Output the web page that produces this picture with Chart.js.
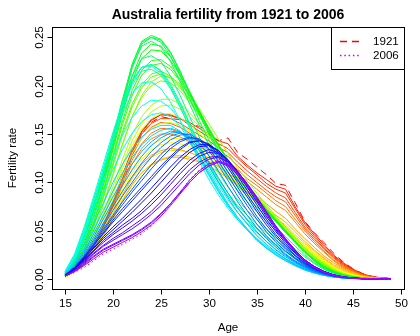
<!DOCTYPE html>
<html>
<head>
<meta charset="utf-8">
<script src="https://cdn.jsdelivr.net/npm/chart.js@4.4.1/dist/chart.umd.min.js"></script>
<style>
  html, body { margin: 0; padding: 0; background: #fff; }
  canvas { display: block; }
</style>
</head>
<body>
<canvas id="chart" width="420" height="336"></canvas>
<script>
// ages on the x axis
const ages = [15,16,17,18,19,20,21,22,23,24,25,26,27,28,29,30,31,32,33,34,35,36,37,38,39,40,41,42,43,44,45,46,47,48,49];

// years drawn (one curve each)
const years = [1921,1923,1924,1926,1927,1929,1930,1932,1933,1935,1936,1938,1939,1941,1942,1944,1945,1947,1948,1950,
  1951,1953,1954,1956,1957,1959,1960,1962,1963,1965,1966,1968,1969,1971,1972,1974,1975,1977,1978,1980,
  1981,1983,1984,1986,1987,1989,1990,1992,1993,1995,1996,1998,1999,2001,2002,2004,2006];

// fertility rate by age, one row per year above
const rates = [
  /*1921*/ [.003,.008,.018,.032,.050,.070,.098,.128,.150,.162, .168,.166,.165,.160,.158,.152,.143,.146,.131,.124, .116,.108,.099,.097,.079,.060,.048,.038,.027,.018, .011,.006,.003,.0015,.0008],
  /*1923*/ [.003,.009,.019,.034,.053,.076,.104,.131,.152,.164, .170,.169,.166,.162,.156,.150,.143,.140,.127,.118, .110,.103,.096,.093,.075,.059,.047,.036,.025,.017, .0105,.0055,.0028,.0014,.0007],
  /*1924*/ [.003,.009,.020,.036,.056,.080,.108,.134,.153,.165, .170,.170,.166,.160,.153,.147,.140,.135,.125,.116, .108,.099,.093,.089,.073,.057,.045,.034,.024,.016, .010,.005,.0025,.0012,.0006],
  /*1926*/ [.003,.009,.020,.036,.056,.079,.106,.131,.150,.161, .166,.166,.161,.155,.149,.143,.136,.131,.121,.112, .104,.096,.089,.084,.069,.054,.043,.032,.023,.015, .0095,.005,.0024,.0011,.0006],
  /*1927*/ [.003,.009,.020,.036,.055,.078,.104,.128,.146,.157, .162,.161,.157,.151,.145,.139,.132,.127,.117,.108, .100,.092,.085,.080,.066,.052,.041,.031,.022,.014, .009,.005,.0022,.001,.0005],
  /*1929*/ [.003,.009,.020,.035,.053,.076,.100,.123,.140,.151, .156,.155,.152,.146,.141,.135,.128,.122,.113,.104, .097,.089,.081,.075,.062,.050,.039,.029,.020,.013, .0085,.0045,.0021,.001,.0005],
  /*1930*/ [.003,.009,.019,.034,.052,.074,.097,.119,.135,.145, .150,.150,.147,.142,.137,.131,.124,.118,.109,.101, .093,.085,.077,.071,.059,.047,.037,.028,.019,.012, .008,.004,.002,.001,.0005],
  /*1932*/ [.002,.008,.017,.031,.048,.067,.087,.105,.119,.128, .133,.135,.134,.131,.127,.122,.116,.110,.102,.094, .086,.078,.070,.063,.052,.042,.033,.024,.017,.011, .007,.0035,.0017,.0009,.0004],
  /*1933*/ [.002,.007,.016,.029,.045,.063,.082,.098,.110,.118, .123,.126,.126,.124,.121,.117,.111,.105,.097,.089, .081,.073,.066,.059,.049,.039,.030,.022,.015,.010, .006,.003,.0015,.0008,.0004],
  /*1935*/ [.002,.007,.015,.028,.044,.062,.081,.097,.110,.119, .124,.127,.128,.126,.122,.117,.111,.104,.096,.088, .079,.071,.063,.056,.046,.037,.029,.021,.014,.009, .0055,.0028,.0014,.0007,.0003],
  /*1936*/ [.002,.007,.016,.030,.047,.066,.086,.104,.117,.126, .131,.133,.133,.131,.127,.121,.114,.106,.097,.088, .080,.071,.062,.054,.044,.035,.027,.020,.013,.008, .005,.0025,.0012,.0006,.0003],
  /*1938*/ [.002,.007,.016,.031,.049,.069,.090,.110,.124,.134, .139,.141,.140,.137,.132,.125,.117,.108,.099,.089, .080,.071,.062,.054,.044,.035,.027,.019,.012,.0075, .0045,.0022,.0011,.0005,.0003],
  /*1939*/ [.002,.007,.017,.032,.051,.072,.094,.114,.129,.139, .144,.146,.145,.141,.135,.128,.119,.110,.100,.090, .081,.071,.062,.053,.043,.034,.026,.019,.012,.007, .004,.002,.001,.0005,.0003],
  /*1941*/ [.003,.008,.019,.036,.058,.082,.107,.130,.146,.156, .161,.162,.159,.153,.145,.136,.126,.116,.105,.094, .084,.074,.064,.054,.044,.034,.026,.018,.0115,.0065, .0037,.0019,.001,.0005,.0003],
  /*1942*/ [.003,.009,.021,.040,.063,.088,.114,.138,.155,.166, .171,.171,.167,.160,.151,.141,.130,.119,.107,.096, .085,.074,.064,.054,.043,.033,.025,.018,.011,.006, .0035,.0018,.0009,.0005,.0003],
  /*1944*/ [.003,.009,.022,.041,.065,.091,.118,.143,.161,.173, .179,.180,.176,.168,.158,.147,.135,.123,.110,.098, .086,.075,.064,.053,.042,.032,.024,.017,.0105,.0058, .0032,.0016,.0008,.0004,.0002],
  /*1945*/ [.003,.010,.023,.043,.068,.096,.124,.150,.168,.180, .186,.186,.181,.172,.161,.149,.136,.123,.110,.098, .086,.074,.063,.052,.041,.031,.023,.016,.010,.0055, .003,.0015,.0008,.0004,.0002],
  /*1947*/ [.004,.011,.026,.048,.076,.107,.139,.168,.190,.204, .210,.209,.202,.190,.176,.161,.145,.130,.115,.102, .089,.077,.065,.054,.043,.032,.023,.016,.0095,.0052, .0029,.0015,.0007,.0004,.0002],
  /*1948*/ [.004,.012,.027,.050,.078,.109,.140,.168,.188,.200, .205,.203,.195,.183,.169,.154,.139,.124,.110,.097, .085,.073,.062,.051,.040,.030,.022,.015,.009,.005, .0028,.0014,.0007,.0004,.0002],
  /*1950*/ [.004,.013,.029,.054,.084,.117,.150,.178,.198,.209, .212,.208,.198,.185,.170,.154,.138,.123,.109,.096, .084,.072,.061,.050,.039,.029,.021,.014,.0087,.0048, .0026,.0013,.0006,.0003,.0002],
  /*1951*/ [.004,.013,.030,.055,.086,.120,.153,.181,.201,.212, .215,.210,.200,.186,.170,.154,.138,.123,.109,.096, .084,.072,.061,.050,.039,.029,.021,.014,.0085,.0047, .0025,.0013,.0006,.0003,.0002],
  /*1953*/ [.004,.014,.031,.057,.090,.125,.160,.190,.211,.221, .223,.217,.205,.189,.172,.155,.138,.123,.109,.096, .084,.072,.061,.050,.039,.029,.020,.013,.0082,.0046, .0024,.0012,.0006,.0003,.0002],
  /*1954*/ [.004,.014,.032,.059,.092,.128,.164,.195,.216,.226, .227,.220,.207,.191,.173,.156,.139,.123,.109,.096, .084,.072,.061,.050,.039,.029,.020,.013,.008,.0045, .0024,.0012,.0006,.0003,.0002],
  /*1956*/ [.004,.015,.035,.063,.097,.134,.171,.205,.228,.237, .236,.226,.211,.193,.174,.156,.139,.123,.109,.096, .084,.072,.061,.050,.039,.028,.019,.012,.0072,.0041, .0021,.001,.0005,.0003,.0002],
  /*1957*/ [.004,.016,.037,.066,.100,.137,.175,.210,.234,.243, .241,.230,.213,.194,.174,.155,.138,.122,.108,.095, .083,.071,.060,.049,.038,.028,.019,.012,.007,.004, .002,.001,.0005,.0003,.0002],
  /*1959*/ [.004,.017,.040,.070,.103,.140,.180,.218,.243,.250, .247,.234,.215,.193,.172,.152,.134,.118,.104,.092, .081,.070,.060,.049,.038,.028,.019,.012,.007,.004, .002,.001,.0005,.0003,.0002],
  /*1960*/ [.004,.018,.042,.072,.105,.142,.182,.222,.246,.252, .248,.235,.215,.192,.170,.150,.131,.115,.102,.090, .080,.069,.059,.048,.038,.028,.019,.012,.007,.004, .002,.001,.0005,.0003,.0002],
  /*1962*/ [.005,.019,.043,.074,.108,.146,.185,.222,.245,.250, .245,.231,.210,.187,.164,.144,.126,.110,.097,.085, .075,.064,.054,.044,.034,.025,.017,.011,.0065,.0036, .0018,.0009,.0004,.0002,.0001],
  /*1963*/ [.005,.019,.044,.076,.110,.148,.186,.220,.241,.246, .240,.225,.204,.181,.159,.139,.121,.105,.092,.080, .070,.060,.050,.040,.031,.023,.016,.010,.006,.0033, .0017,.0008,.0004,.0002,.0001],
  /*1965*/ [.005,.020,.045,.077,.110,.145,.180,.210,.228,.231, .225,.210,.190,.168,.147,.127,.110,.095,.082,.071, .062,.052,.043,.035,.027,.019,.013,.0083,.0048,.0026, .0013,.0007,.0003,.0002,.0001],
  /*1966*/ [.006,.020,.045,.076,.108,.142,.175,.203,.219,.222, .215,.200,.181,.160,.139,.120,.103,.089,.076,.066, .057,.048,.040,.032,.024,.017,.012,.0075,.0043,.0023, .0012,.0006,.0003,.0002,.0001],
  /*1968*/ [.006,.022,.048,.079,.111,.145,.176,.201,.215,.217, .211,.197,.178,.157,.136,.117,.100,.086,.073,.062, .053,.044,.036,.029,.022,.016,.011,.0068,.0039,.0021, .0011,.0005,.0003,.0002,.0001],
  /*1969*/ [.007,.023,.050,.082,.115,.149,.180,.205,.219,.222, .216,.202,.183,.161,.139,.119,.101,.086,.073,.062, .052,.043,.035,.028,.021,.015,.010,.0063,.0036,.0019, .001,.0005,.0003,.0002,.0001],
  /*1971*/ [.008,.026,.054,.086,.119,.152,.182,.206,.219,.220, .213,.198,.178,.156,.134,.114,.097,.082,.069,.058, .048,.039,.031,.024,.018,.013,.0085,.0052,.003,.0016, .0008,.0004,.0002,.0001,.0001],
  /*1972*/ [.008,.025,.052,.083,.114,.144,.171,.192,.203,.204, .197,.183,.164,.143,.122,.103,.087,.073,.061,.051, .042,.034,.027,.021,.016,.011,.0075,.0045,.0025,.0013, .0007,.0004,.0002,.0001,.0001],
  /*1974*/ [.008,.024,.047,.074,.101,.126,.149,.167,.179,.185, .184,.177,.164,.147,.128,.109,.092,.077,.064,.052, .042,.034,.027,.021,.016,.011,.0072,.0044,.0025,.0013, .0007,.0004,.0002,.0001,.0001],
  /*1975*/ [.007,.021,.042,.066,.090,.113,.134,.151,.163,.170, .172,.168,.158,.143,.125,.107,.090,.075,.062,.051, .041,.033,.026,.020,.015,.010,.0068,.0042,.0024,.0013, .0007,.0004,.0002,.0001,.0001],
  /*1977*/ [.006,.018,.036,.057,.079,.100,.119,.135,.147,.155, .159,.159,.153,.141,.126,.108,.091,.076,.062,.051, .040,.032,.025,.019,.014,.0095,.0063,.0039,.0022,.0012, .0006,.0003,.0002,.0001,.0001],
  /*1978*/ [.005,.016,.032,.051,.071,.091,.110,.126,.139,.148, .154,.156,.153,.143,.128,.111,.094,.078,.064,.052, .041,.032,.025,.019,.014,.0095,.0063,.0039,.0022,.0012, .0006,.0003,.0002,.0001,.0001],
  /*1980*/ [.005,.014,.029,.047,.066,.085,.103,.119,.132,.142, .149,.153,.152,.145,.133,.117,.100,.084,.069,.057, .045,.036,.028,.021,.015,.0105,.0069,.0043,.0024,.0013, .0007,.0003,.0002,.0001,.0001],
  /*1981*/ [.004,.013,.027,.044,.062,.080,.097,.113,.127,.138, .146,.151,.152,.147,.136,.121,.105,.089,.074,.061, .049,.039,.030,.023,.017,.0115,.0075,.0046,.0026,.0014, .0007,.0004,.0002,.0001,.0001],
  /*1983*/ [.004,.012,.025,.041,.058,.075,.091,.106,.120,.132, .141,.148,.151,.149,.141,.128,.112,.096,.080,.066, .053,.042,.033,.025,.018,.0125,.0082,.005,.0028,.0015, .0008,.0004,.0002,.0001,.0001],
  /*1984*/ [.004,.012,.024,.039,.055,.071,.086,.100,.114,.126, .136,.144,.149,.150,.144,.133,.118,.102,.086,.071, .057,.045,.035,.026,.019,.013,.0085,.0052,.003,.0016, .0008,.0004,.0002,.0001,.0001],
  /*1986*/ [.004,.012,.023,.037,.052,.066,.080,.093,.106,.118, .129,.138,.144,.147,.144,.135,.122,.107,.091,.076, .062,.049,.038,.029,.021,.014,.0093,.0057,.0032,.0017, .0009,.0004,.0002,.0001,.0001],
  /*1987*/ [.004,.012,.023,.036,.050,.064,.077,.090,.102,.114, .125,.135,.142,.146,.145,.138,.126,.111,.095,.080, .065,.052,.041,.031,.022,.015,.0098,.006,.0034,.0018, .0009,.0005,.0002,.0001,.0001],
  /*1989*/ [.004,.012,.023,.035,.048,.061,.073,.084,.095,.106, .117,.127,.136,.142,.143,.139,.129,.115,.100,.085, .070,.056,.044,.033,.024,.016,.0105,.0065,.0036,.0019, .001,.0005,.0003,.0001,.0001],
  /*1990*/ [.004,.012,.023,.035,.047,.059,.070,.081,.092,.103, .114,.125,.134,.141,.143,.140,.131,.118,.103,.088, .073,.059,.046,.035,.025,.017,.011,.0068,.0038,.002, .001,.0005,.0003,.0001,.0001],
  /*1992*/ [.004,.011,.022,.033,.044,.054,.063,.073,.083,.094, .105,.116,.126,.134,.139,.139,.133,.121,.107,.092, .077,.062,.049,.037,.027,.018,.012,.0073,.0041,.0022, .0011,.0005,.0003,.0002,.0001],
  /*1993*/ [.004,.011,.021,.032,.042,.051,.060,.069,.079,.089, .100,.111,.122,.131,.137,.138,.133,.123,.110,.095, .080,.065,.051,.039,.028,.019,.0125,.0076,.0043,.0023, .0011,.0005,.0003,.0002,.0001],
  /*1995*/ [.004,.010,.020,.030,.040,.048,.056,.063,.071,.081, .091,.102,.113,.123,.130,.134,.131,.123,.111,.097, .082,.067,.053,.040,.029,.020,.013,.0078,.0044,.0023, .0012,.0006,.0003,.0002,.0001],
  /*1996*/ [.004,.010,.019,.029,.038,.046,.053,.060,.068,.077, .087,.098,.109,.119,.127,.131,.130,.123,.112,.098, .083,.068,.054,.041,.030,.020,.013,.008,.0045,.0024, .0012,.0006,.0003,.0002,.0001],
  /*1998*/ [.003,.009,.018,.027,.035,.042,.048,.055,.062,.070, .080,.091,.102,.113,.121,.126,.127,.121,.111,.098, .084,.069,.054,.041,.030,.020,.013,.008,.0045,.0024, .0012,.0006,.0003,.0002,.0001],
  /*1999*/ [.003,.009,.017,.026,.034,.040,.046,.052,.059,.067, .076,.087,.098,.109,.118,.124,.126,.121,.111,.099, .085,.070,.055,.042,.030,.020,.013,.008,.0045,.0024, .0012,.0006,.0003,.0002,.0001],
  /*2001*/ [.003,.008,.016,.024,.031,.036,.041,.046,.052,.059, .068,.078,.089,.100,.110,.117,.121,.117,.108,.096, .083,.068,.053,.040,.029,.019,.012,.0072,.004,.0021, .001,.0005,.0003,.0002,.0001],
  /*2002*/ [.003,.008,.015,.023,.030,.035,.040,.045,.051,.058, .067,.078,.090,.102,.112,.119,.122,.119,.110,.098, .084,.069,.054,.041,.029,.019,.012,.0072,.004,.0021, .001,.0005,.0003,.0002,.0001],
  /*2004*/ [.003,.008,.014,.021,.028,.033,.038,.043,.049,.056, .065,.076,.088,.100,.110,.117,.121,.118,.109,.097, .083,.068,.053,.040,.029,.019,.012,.0072,.004,.0021, .001,.0005,.0003,.0002,.0001],
  /*2006*/ [.003,.007,.012,.019,.026,.031,.036,.041,.047,.055, .065,.077,.090,.103,.113,.120,.123,.119,.110,.097, .083,.068,.053,.040,.028,.019,.012,.007,.004,.002, .001,.0005,.0003,.0002,.0001]
];

// axis ticks
const xTicks = [15,20,25,30,35,40,45,50];
const yTicks = [0,0.05,0.10,0.15,0.20,0.25];
const yTickLabels = ['0.00','0.05','0.10','0.15','0.20','0.25'];

const FONT = '"Liberation Sans", Arial, Helvetica, sans-serif';

// R rainbow(n * 1.25): hue runs red -> purple over the years (full saturation/value)
function yearColor(y) {
  const h = ((y - 1921) / 107) * 6;
  const k = Math.floor(h), f = h - k;
  const q = Math.round(255 * (1 - f)), t = Math.round(255 * f);
  const rgb = [[255, t, 0], [q, 255, 0], [0, 255, t], [0, q, 255], [t, 0, 255], [255, 0, q]][k % 6];
  return `rgb(${rgb[0]}, ${rgb[1]}, ${rgb[2]})`;
}

function dashFor(i) {
  if (i === 0) return [7, 5];
  if (i === years.length - 1) return [1.5, 2.8];
  return [];
}

const datasets = years.map((yr, i) => ({
  label: String(yr),
  data: ages.map((a, j) => ({ x: a, y: rates[i][j] })),
  borderColor: yearColor(yr),
  borderWidth: 1,
  borderDash: dashFor(i),
  pointRadius: 0,
  fill: false,
  tension: 0,
  order: years.length - i
}));

// R style frame, axes, titles and legend
const rFrame = {
  id: 'rFrame',
  afterDraw(chart) {
    const { ctx, chartArea: ca, scales } = chart;
    const xs = scales.x, ys = scales.y;
    ctx.save();
    ctx.strokeStyle = '#000';
    ctx.fillStyle = '#000';
    ctx.lineWidth = 1;

    // box
    ctx.strokeRect(Math.round(ca.left) + 0.5, Math.round(ca.top) + 0.5,
      Math.round(ca.right - ca.left), Math.round(ca.bottom - ca.top));

    // x axis
    ctx.font = `11.6px ${FONT}`;
    ctx.textAlign = 'center';
    ctx.textBaseline = 'middle';
    const bot = Math.round(ca.bottom) + 0.5;
    xTicks.forEach(v => {
      const px = Math.round(xs.getPixelForValue(v)) + 0.5;
      ctx.beginPath();
      ctx.moveTo(px, bot);
      ctx.lineTo(px, bot + 5);
      ctx.stroke();
      ctx.fillText(String(v), px, bot + 14);
    });

    // y axis
    const lft = Math.round(ca.left) + 0.5;
    yTicks.forEach((v, i) => {
      const py = Math.round(ys.getPixelForValue(v)) + 0.5;
      ctx.beginPath();
      ctx.moveTo(lft - 5, py);
      ctx.lineTo(lft, py);
      ctx.stroke();
      ctx.save();
      ctx.translate(lft - 13, py);
      ctx.rotate(-Math.PI / 2);
      ctx.fillText(yTickLabels[i], 0, 0);
      ctx.restore();
    });

    // axis titles
    const cx = (ca.left + ca.right) / 2;
    const cy = (ca.top + ca.bottom) / 2;
    ctx.fillText('Age', cx, 328);
    ctx.save();
    ctx.translate(13, cy);
    ctx.rotate(-Math.PI / 2);
    ctx.fillText('Fertility rate', 0, 0);
    ctx.restore();

    // main title
    ctx.font = `bold 14px ${FONT}`;
    ctx.textBaseline = 'alphabetic';
    ctx.fillText('Australia fertility from 1921 to 2006', cx, 18.5);

    // legend
    const lx = 331, lr = Math.round(ca.right);
    ctx.strokeRect(lx + 0.5, Math.round(ca.top) + 0.5, lr - lx, 42);
    ctx.font = `11.6px ${FONT}`;
    ctx.textAlign = 'left';
    ctx.textBaseline = 'middle';
    [[0, 41], [years.length - 1, 55]].forEach(([i, ly]) => {
      ctx.save();
      ctx.strokeStyle = yearColor(years[i]);
      ctx.lineWidth = 1.3;
      ctx.setLineDash(dashFor(i));
      ctx.beginPath();
      ctx.moveTo(340, ly + 0.5);
      ctx.lineTo(361, ly + 0.5);
      ctx.stroke();
      ctx.restore();
      ctx.fillText(String(years[i]), 373, ly + 0.5);
    });
    ctx.restore();
  }
};

new Chart(document.getElementById('chart'), {
  type: 'line',
  data: { datasets },
  options: {
    responsive: false,
    animation: false,
    devicePixelRatio: 1,
    layout: { padding: { left: 52, right: 16, top: 27, bottom: 47 } },
    plugins: {
      legend: { display: false },
      tooltip: { enabled: false }
    },
    scales: {
      x: { type: 'linear', display: false, min: 13.64, max: 50.36 },
      y: { type: 'linear', display: false, min: -0.0102, max: 0.2607 }
    }
  },
  plugins: [rFrame]
});
</script>
</body>
</html>
